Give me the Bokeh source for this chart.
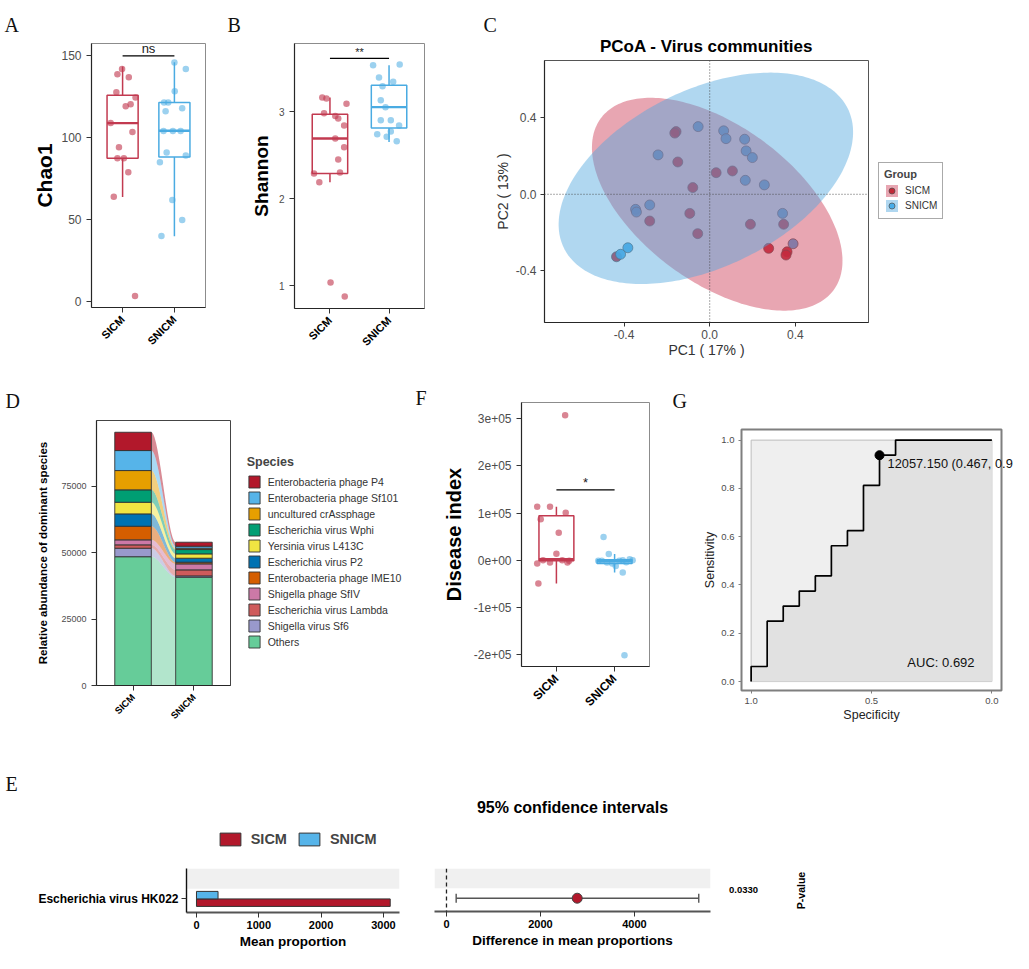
import math
import numpy as np
from bokeh.plotting import figure
from bokeh.models import (Range1d, Label, Legend, LegendItem, Span, FixedTicker,
                          ColumnDataSource, Whisker, TeeHead, PrintfTickFormatter, BoxAnnotation)
from bokeh.embed import file_html
from bokeh.resources import INLINE
from bokeh.core.properties import value

FONT = "Liberation Sans"
SERIF = "Liberation Serif"
RED = "#C23A50"
BLUE = "#4AABE2"
NAN = float("nan")

groups = ["SICM", "SNICM"]

# ---------------- A: Chao1 ----------------
chao1_sicm_jit = [-0.01, -0.10, 0.12, -0.12, 0.25, 0.155, 0.06, 0.19, -0.07, -0.10, 0.025, 0.11, -0.17, 0.24, -0.23]
chao1_sicm = [142, 138.7, 137, 127.8, 124.6, 120.5, 119.3, 103.6, 94.2, 87.5, 87.5, 79.1, 64.1, 3.6, 109]
chao1_snicm_jit = [0.0, 0.22, 0.006, -0.2, -0.12, -0.17, 0.15, -0.21, -0.03, 0.12, -0.15, 0.22, -0.28, -0.04, 0.15, -0.25]
chao1_snicm = [145.9, 142, 128.4, 121.5, 121.5, 116.2, 118.1, 104.1, 104.1, 104.1, 91.1, 89.3, 85.2, 62.1, 49.9, 40.2]
chao1_lower = [64, 40]
chao1_q1 = [87.5, 88.4]
chao1_median = [109, 104.3]
chao1_q3 = [126, 121.5]
chao1_upper = [143.5, 146]
chao1_sig = [150]
chao1_sig_text = ["ns"]

# ---------------- B: Shannon ----------------
shannon_sicm_jit = [-0.13, -0.06, 0.28, -0.10, 0.09, 0.14, 0.24, 0.09, 0.24, 0.14, 0.17, -0.27, -0.18, 0.01, 0.25]
shannon_sicm = [3.16, 3.15, 3.09, 2.98, 2.95, 2.92, 2.84, 2.69, 2.59, 2.45, 2.30, 2.29, 2.19, 1.04, 0.88]
shannon_snicm_jit = [-0.27, 0.18, -0.17, 0.07, -0.11, -0.14, -0.06, -0.14, 0.03, 0.17, -0.20, 0.03, -0.04, 0.13]
shannon_snicm = [3.53, 3.54, 3.39, 3.34, 3.29, 3.13, 3.05, 2.90, 2.90, 2.84, 2.74, 2.77, 2.71, 2.66]
shannon_lower = [2.19, 2.65]
shannon_q1 = [2.29, 2.81]
shannon_median = [2.69, 3.05]
shannon_q3 = [2.97, 3.30]
shannon_upper = [3.16, 3.53]
shannon_sig = [3.61]
shannon_sig_text = ["**"]

# ---------------- C: PCoA ----------------
pc_sicm_x = [-0.157, -0.163, -0.149, 0.030, 0.106, -0.079, -0.093, -0.280, -0.056, 0.190, -0.435, 0.275, 0.345, 0.361, 0.356]
pc_sicm_y = [0.328, 0.320, 0.169, 0.113, 0.122, 0.035, -0.100, -0.140, -0.206, -0.157, -0.327, -0.283, -0.157, -0.301, -0.318]
pc_snicm_x = [-0.054, 0.065, 0.076, 0.163, 0.170, 0.199, -0.241, 0.166, 0.255, -0.280, -0.346, -0.342, -0.382, -0.416, 0.340, 0.389]
pc_snicm_y = [0.354, 0.332, 0.291, 0.288, 0.227, 0.192, 0.206, 0.073, 0.049, -0.056, -0.079, -0.093, -0.280, -0.314, -0.100, -0.259]
# 95% ellipses (centre x, centre y, semi-major, semi-minor, angle in degrees)
ell_sicm = [0.035, -0.052, 0.707, 0.390, -42.4]
ell_snicm = [-0.018, 0.0835, 0.758, 0.451, 31.7]
pc1_pct = 17
pc2_pct = 13

# ---------------- D: dominant species ----------------
species = ["Others", "Shigella virus Sf6", "Escherichia virus Lambda", "Shigella phage SfIV",
           "Enterobacteria phage IME10", "Escherichia virus P2", "Yersinia virus L413C",
           "Escherichia virus Wphi", "uncultured crAssphage", "Enterobacteria phage Sf101",
           "Enterobacteria phage P4"]
abund_sicm = [48500, 3200, 1270, 1880, 5130, 4650, 4380, 4670, 7270, 7530, 6890]
abund_snicm = [40780, 500, 2270, 2260, 620, 1500, 1640, 1630, 500, 760, 1500]
species_colors = ["#66CC99", "#9999CC", "#CF5B5B", "#CC79A7", "#D55E00", "#0072B2",
                  "#F0E442", "#009E73", "#E69F00", "#56B4E9", "#B2182B"]

# ---------------- F: Disease index ----------------
di_sicm_jit = [0.15, -0.33, -0.11, 0.16, -0.27, 0.04, 0.0, -0.33, -0.11, 0.19, -0.31, -0.23, 0.10, 0.22]
di_sicm = [307000, 113000, 113000, 100600, 87000, 58000, 14000, -7000, -5000, -5000, -49000, 0, 0, -1000]
di_snicm_jit = [-0.19, -0.10, 0.14, 0.02, 0.17, -0.22, -0.13, -0.04, 0.08, 0.20, 0.26, 0.31, -0.28, 0.14]
di_snicm = [49000, 13000, -26000, -12000, -201000, -1000, -5000, -7000, -1000, -4000, 2000, 0, -1000, 0]
di_lower = [-49000, -26000]
di_q1 = [-1000, -7000]
di_median = [2000, -2000]
di_q3 = [94000, 1000]
di_upper = [113000, 13000]
di_sig = [149000]
di_sig_text = ["*"]
di_ticks = [-200000, -100000, 0, 100000, 200000, 300000]
di_tick_labels = ["-2e+05", "-1e+05", "0e+00", "1e+05", "2e+05", "3e+05"]

# ---------------- G: ROC ----------------
roc_spec = [1, 1, 14/15, 14/15, 13/15, 13/15, 12/15, 12/15, 11/15, 11/15, 10/15, 10/15,
            9/15, 9/15, 8/15, 8/15, 7/15, 7/15, 6/15, 6/15, 0]
roc_sens = [0, 1/16, 1/16, 4/16, 4/16, 5/16, 5/16, 6/16, 6/16, 7/16, 7/16, 9/16,
            9/16, 10/16, 10/16, 13/16, 13/16, 15/16, 15/16, 1, 1]
best_threshold = 12057.150
best_spec = 7/15
best_sens = 15/16

# ---------------- E: extended error bar ----------------
feature = ["Escherichia virus HK022"]
mean_prop_sicm = [3109]
mean_prop_snicm = [346]
diff_mean = [2781]
diff_lo = [206]
diff_hi = [5367]
p_value = ["0.0330"]

E_RED = "#B2182B"
E_BLUE = "#56B4E9"


# ================= helpers =================
def base(left, top, w, h, l, r, t, b, xr, yr):
    p = figure(width=w, height=h, x_range=xr, y_range=yr, toolbar_location=None,
               output_backend="svg", min_border_left=l, min_border_right=r,
               min_border_top=t, min_border_bottom=b,
               styles={"position": "absolute", "left": f"{left}px", "top": f"{top}px"})
    p.xgrid.visible = False
    p.ygrid.visible = False
    p.outline_line_color = "#8C8C8C"
    p.outline_line_width = 1
    p.background_fill_color = "white"
    p.border_fill_color = "white"
    for ax in p.axis:
        ax.minor_tick_line_color = None
        ax.major_tick_in = 0
        ax.major_tick_out = 5
        ax.major_tick_line_color = "#333333"
        ax.axis_line_color = "#262626"
        ax.axis_line_width = 1.2
        ax.major_label_text_font = FONT
        ax.axis_label_text_font = FONT
        ax.axis_label_text_font_style = "normal"
        ax.major_label_text_color = "#4D4D4D"
        ax.axis_label_text_color = "black"
        ax.major_label_standoff = 5
    return p


def overlay(left, top, w, h):
    # transparent figure that only carries a legend placed outside a panel frame
    p = figure(width=w, height=h, x_range=Range1d(0, 1), y_range=Range1d(0, 1),
               toolbar_location=None, output_backend="svg", x_axis_type=None, y_axis_type=None,
               min_border=0, styles={"position": "absolute", "left": f"{left}px", "top": f"{top}px"})
    p.outline_line_color = None
    p.background_fill_alpha = 0
    p.border_fill_alpha = 0
    return p


def cat_xaxis(p, size):
    ax = p.xaxis[0]
    ax.ticker = FixedTicker(ticks=[1, 2])
    ax.major_label_overrides = {1: groups[0], 2: groups[1]}
    ax.major_label_orientation = math.pi / 4
    ax.major_label_text_font_style = "bold"
    ax.major_label_text_color = "black"
    ax.major_label_text_font_size = f"{size}px"


def boxplot(p, lower, q1, med, q3, upper, width=0.6, lw=1.5):
    xs = [1, 2]
    src = ColumnDataSource(dict(x=xs, lower=lower, q1=q1, med=med, q3=q3, upper=upper,
                                color=[RED, BLUE],
                                left=[x - width / 2 for x in xs], right=[x + width / 2 for x in xs]))
    p.segment(x0="x", y0="lower", x1="x", y1="q1", line_color="color", line_width=lw, source=src)
    p.segment(x0="x", y0="q3", x1="x", y1="upper", line_color="color", line_width=lw, source=src)
    p.quad(left="left", right="right", bottom="q1", top="q3", fill_color=None,
           line_color="color", line_width=lw, source=src)
    p.segment(x0="left", y0="med", x1="right", y1="med", line_color="color", line_width=lw * 1.6, source=src)


def jitter_points(p, jit_a, vals_a, jit_b, vals_b, size=6.5):
    p.scatter(x=[1 + j for j in jit_a], y=vals_a, size=size, fill_color=RED, fill_alpha=0.62, line_color=None)
    p.scatter(x=[2 + j for j in jit_b], y=vals_b, size=size, fill_color=BLUE, fill_alpha=0.55, line_color=None)


def sig_bar(p, yv, txt, size):
    p.segment(x0=[1], y0=yv, x1=[2], y1=yv, line_color="black", line_width=1.3)
    p.text(x=[1.5], y=yv, text=txt, text_align="center", text_baseline="bottom",
           text_font=value(FONT), text_font_size=f"{size}px", text_color="#1a1a1a")


def put(p, cl, ct, ax_, ay_, text, size, bold=False, font=FONT, align="left",
        baseline="middle", angle=0, color="black"):
    p.add_layout(Label(x=ax_ - cl, y=ay_ - ct, x_units="canvas", y_units="canvas", text=text,
                       text_font=font, text_font_size=f"{size}px",
                       text_font_style="bold" if bold else "normal",
                       text_align=align, text_baseline=baseline, angle=angle, text_color=color), "above")


def letter(p, cl, ct, ax_, ay_, text):
    put(p, cl, ct, ax_, ay_, text, 20, font=SERIF, baseline="middle", color="#111111")


# ================= A =================
pA = base(0, 0, 225, 375, 91, 20, 43, 68, Range1d(0.4, 2.6), Range1d(-3.4, 157.5))
boxplot(pA, chao1_lower, chao1_q1, chao1_median, chao1_q3, chao1_upper)
jitter_points(pA, chao1_sicm_jit, chao1_sicm, chao1_snicm_jit, chao1_snicm)
sig_bar(pA, chao1_sig, chao1_sig_text, 13)
cat_xaxis(pA, 11)
pA.yaxis.ticker = FixedTicker(ticks=[0, 50, 100, 150])
pA.yaxis.major_label_text_font_size = "12px"
pA.yaxis.axis_label = "Chao1"
pA.yaxis.axis_label_text_font_size = "21px"
pA.yaxis.axis_label_text_font_style = "bold"
pA.yaxis.axis_label_standoff = 2
letter(pA, 0, 0, 4, 24.5, "A")

# ================= B =================
pB = base(225, 0, 225, 375, 69, 26, 43, 67, Range1d(0.4, 2.6), Range1d(0.741, 3.78))
boxplot(pB, shannon_lower, shannon_q1, shannon_median, shannon_q3, shannon_upper)
jitter_points(pB, shannon_sicm_jit, shannon_sicm, shannon_snicm_jit, shannon_snicm)
sig_bar(pB, shannon_sig, shannon_sig_text, 11)
cat_xaxis(pB, 11)
pB.yaxis.ticker = FixedTicker(ticks=[1, 2, 3])
pB.yaxis.major_label_text_font_size = "10px"
pB.yaxis.axis_label = "Shannon"
pB.yaxis.axis_label_text_font_size = "19px"
pB.yaxis.axis_label_text_font_style = "bold"
pB.yaxis.axis_label_standoff = 4
letter(pB, 225, 0, 227, 24.5, "B")

# ================= C =================
pC = base(450, 0, 579, 375, 94, 161, 60, 53, Range1d(-0.771, 0.741), Range1d(-0.671, 0.70))
pC.outline_line_color = "#555555"
pC.add_layout(Span(location=0, dimension="height", line_color="#444444", line_width=0.9, line_dash="1 2"))
pC.add_layout(Span(location=0, dimension="width", line_color="#444444", line_width=0.9, line_dash="1 2"))
pC.scatter(pc_sicm_x, pc_sicm_y, size=10, fill_color="#BE1E2D", fill_alpha=0.92,
           line_color="#4D4D4D", line_width=0.7)
pC.scatter(pc_snicm_x, pc_snicm_y, size=10, fill_color="#3FA9E8", fill_alpha=0.92,
           line_color="#4D4D4D", line_width=0.7)


def ellipse_xy(params):
    cx, cy, a, b, ang = params
    th = math.radians(ang)
    tt = np.linspace(0, 2 * np.pi, 240)
    x = cx + a * np.cos(tt) * math.cos(th) - b * np.sin(tt) * math.sin(th)
    y = cy + a * np.cos(tt) * math.sin(th) + b * np.sin(tt) * math.cos(th)
    return x, y


ex, ey = ellipse_xy(ell_sicm)
pC.patch(ex, ey, fill_color="#CC3A55", fill_alpha=0.45, line_color=None)
ex, ey = ellipse_xy(ell_snicm)
pC.patch(ex, ey, fill_color="#4FA6DE", fill_alpha=0.45, line_color=None)
pC.xaxis.ticker = FixedTicker(ticks=[-0.4, 0.0, 0.4])
pC.yaxis.ticker = FixedTicker(ticks=[-0.4, 0.0, 0.4])
pC.xaxis.formatter = PrintfTickFormatter(format="%.1f")
pC.yaxis.formatter = PrintfTickFormatter(format="%.1f")
for ax in pC.axis:
    ax.major_label_text_font_size = "12px"
    ax.axis_label_text_font_size = "14px"
    ax.axis_label_text_color = "#333333"
    ax.major_tick_out = 4
    ax.major_label_standoff = 4
    ax.axis_label_standoff = 2
pC.xaxis.major_label_standoff = 3
pC.xaxis.axis_label_standoff = 0
pC.xaxis.axis_label = f"PC1 ( {pc1_pct}% )"
pC.yaxis.axis_label = f"PC2 ( {pc2_pct}% )"
put(pC, 450, 0, 706, 46, "PCoA - Virus communities", 17, bold=True, align="center")
letter(pC, 450, 0, 483, 24.5, "C")

# legend of C drawn in a transparent overlay (placeholder renderers draw nothing)
lC = overlay(870, 155, 80, 72)
kc1 = lC.patch([NAN], [NAN], fill_color="#CC3A55", fill_alpha=0.45, line_color=None)
kc2 = lC.scatter([NAN], [NAN], size=10, fill_color="#BE1E2D", fill_alpha=0.92, line_color="#4D4D4D", line_width=0.7)
kc3 = lC.patch([NAN], [NAN], fill_color="#4FA6DE", fill_alpha=0.45, line_color=None)
kc4 = lC.scatter([NAN], [NAN], size=10, fill_color="#3FA9E8", fill_alpha=0.92, line_color="#4D4D4D", line_width=0.7)
legC = Legend(items=[LegendItem(label=groups[0], renderers=[kc1, kc2]),
                     LegendItem(label=groups[1], renderers=[kc3, kc4])],
              location=(8, 8), title="Group")
legC.title_text_font = FONT
legC.title_text_font_style = "bold"
legC.title_text_font_size = "11px"
legC.label_text_font = FONT
legC.label_text_font_size = "10px"
legC.label_text_color = "#333333"
legC.border_line_color = "#555555"
legC.background_fill_color = "white"
legC.padding = 5
legC.spacing = 0
legC.margin = 0
legC.glyph_height = 15
legC.glyph_width = 15
legC.label_height = 15
legC.title_standoff = 3
legC.label_standoff = 6
lC.add_layout(legC)

# ================= D =================
pD = base(0, 375, 405, 360, 96, 175, 45, 50, Range1d(0.4, 2.6), Range1d(0, 99800))
pD.outline_line_color = "#444444"
bw = 0.6
top_a = np.cumsum(abund_sicm)
bot_a = top_a - np.array(abund_sicm)
top_b = np.cumsum(abund_snicm)
bot_b = top_b - np.array(abund_snicm)
tt = np.linspace(0, 1, 60)
s = tt * tt * (3 - 2 * tt)
fx = (1 + bw / 2) + tt * ((2 - bw / 2) - (1 + bw / 2))
for i in range(len(species)):
    ytop = top_a[i] + (top_b[i] - top_a[i]) * s
    ybot = bot_a[i] + (bot_b[i] - bot_a[i]) * s
    pD.patch(np.concatenate([fx, fx[::-1]]), np.concatenate([ytop, ybot[::-1]]),
             fill_color=species_colors[i], fill_alpha=0.5, line_color=None)
for i, sp in enumerate(species):
    pD.vbar(x=[1, 2], bottom=[bot_a[i], bot_b[i]], top=[top_a[i], top_b[i]], width=bw,
            fill_color=species_colors[i], line_color="#333333", line_width=0.9)
cat_xaxis(pD, 9.5)
pD.yaxis.ticker = FixedTicker(ticks=[0, 25000, 50000, 75000])
pD.yaxis.major_label_text_font_size = "9px"
pD.yaxis.axis_label = "Relative abundance of dominant species"
pD.yaxis.axis_label_text_font_size = "11.5px"
pD.yaxis.axis_label_text_font_style = "bold"
pD.yaxis.axis_label_standoff = 9
letter(pD, 0, 375, 5, 400, "D")

lD = overlay(240, 448, 175, 215)
keysD = [lD.vbar(x=[NAN], top=[NAN], width=0.5, fill_color=c, line_color="#333333", line_width=0.9)
         for c in species_colors]
legD = Legend(items=[LegendItem(label=species[i], renderers=[keysD[i]]) for i in range(len(species) - 1, -1, -1)],
              location=(6.7, 14), title="Species")
legD.title_text_font = FONT
legD.title_text_font_style = "bold"
legD.title_text_font_size = "12.5px"
legD.label_text_font = FONT
legD.label_text_font_size = "10.5px"
legD.label_text_color = "#333333"
legD.border_line_color = None
legD.background_fill_alpha = 0
legD.padding = 0
legD.spacing = 1
legD.margin = 0
legD.glyph_height = 15
legD.glyph_width = 14
legD.label_height = 15
legD.title_standoff = 5
legD.label_standoff = 7
lD.add_layout(legD)

# ================= F =================
pF = base(405, 375, 260, 360, 116, 16, 27, 69, Range1d(0.4, 2.6), Range1d(-225000, 334000))
boxplot(pF, di_lower, di_q1, di_median, di_q3, di_upper)
jitter_points(pF, di_sicm_jit, di_sicm, di_snicm_jit, di_snicm)
sig_bar(pF, di_sig, di_sig_text, 13)
cat_xaxis(pF, 12)
pF.yaxis.ticker = FixedTicker(ticks=di_ticks)
pF.yaxis.major_label_overrides = {k: v for k, v in zip(di_ticks, di_tick_labels)}
pF.yaxis.major_label_text_font_size = "12px"
pF.yaxis.axis_label = "Disease index"
pF.yaxis.axis_label_text_font_size = "20px"
pF.yaxis.axis_label_text_font_style = "bold"
pF.yaxis.axis_label_standoff = 6
letter(pF, 405, 375, 415, 397, "F")

# ================= G =================
pG = base(665, 375, 355, 360, 76, 19, 54, 45, Range1d(1.04, -0.04), Range1d(-0.037, 1.044))
pG.outline_line_color = "#7F7F7F"
pG.outline_line_width = 2
pG.quad(left=[1], right=[0], bottom=[0], top=[1], fill_color="#EFEFEF", line_color="#BDBDBD", line_width=1)
pG.patch(roc_spec + [0.0], roc_sens + [0.0], fill_color="#E1E1E1", line_color=None)
pG.line(roc_spec, roc_sens, line_color="black", line_width=1.7)
pG.scatter([best_spec], [best_sens], size=9, fill_color="black", line_color="black")
auc = sum((roc_spec[i] - roc_spec[i + 1]) * roc_sens[i] for i in range(len(roc_spec) - 1))
# the reference shows this threshold label cut at the panel's right edge
pG.add_layout(Label(x=best_spec, y=best_sens, x_offset=8, y_offset=-8,
                    text=f"{best_threshold:.3f} ({best_spec:.3f}, {best_sens:.1f}",
                    text_font=FONT, text_font_size="12.8px", text_baseline="middle",
                    text_color="#111111"), "above")
pG.add_layout(Label(x=0.351, y=0.08, text=f"AUC: {auc:.3f}", text_font=FONT, text_font_size="13px",
                    text_baseline="middle", text_color="#111111"))
pG.xaxis.ticker = FixedTicker(ticks=[0.0, 0.5, 1.0])
pG.yaxis.ticker = FixedTicker(ticks=[0.0, 0.2, 0.4, 0.6, 0.8, 1.0])
pG.xaxis.formatter = PrintfTickFormatter(format="%.1f")
pG.yaxis.formatter = PrintfTickFormatter(format="%.1f")
for ax in pG.axis:
    ax.axis_line_color = None
    ax.major_tick_out = 3
    ax.major_tick_line_color = "#7F7F7F"
    ax.major_label_text_font_size = "9.5px"
    ax.major_label_standoff = 4
    ax.axis_label_text_font_size = "12.5px"
    ax.axis_label_text_color = "#222222"
    ax.axis_label_standoff = 1
pG.xaxis.axis_label = "Specificity"
pG.yaxis.axis_label = "Sensitivity"
letter(pG, 665, 375, 672, 400.5, "G")

# ================= E (left) =================
pE1 = base(0, 735, 420, 234, 186, 21, 133, 57, Range1d(-160, 3258), Range1d(0.276, 2.62))
pE1.outline_line_color = None
pE1.add_layout(BoxAnnotation(bottom=1.54, fill_color="#F0F0F0", fill_alpha=1, line_color=None, level="underlay"))
pE1.hbar(y=[0.8], left=[0], right=mean_prop_sicm, height=0.4, fill_color=E_RED,
         line_color="#333333", line_width=1)
pE1.hbar(y=[1.2], left=[0], right=mean_prop_snicm, height=0.4, fill_color=E_BLUE,
         line_color="#333333", line_width=1)
pE1.xaxis.ticker = FixedTicker(ticks=[0, 1000, 2000, 3000])
pE1.yaxis.ticker = FixedTicker(ticks=[1])
pE1.yaxis.major_label_overrides = {1: feature[0]}
for ax in pE1.axis:
    ax.major_label_text_font_style = "bold"
    ax.major_label_text_color = "black"
    ax.major_label_standoff = 3
pE1.xaxis.major_label_text_font_size = "11px"
pE1.yaxis.major_label_text_font_size = "12px"
pE1.xaxis.axis_line_color = "#555555"
pE1.xaxis.axis_line_width = 2.2
pE1.yaxis.axis_line_color = "#111111"
pE1.yaxis.axis_line_width = 1.4
pE1.xaxis.axis_label = "Mean proportion"
pE1.xaxis.axis_label_text_font_style = "bold"
pE1.xaxis.axis_label_text_font_size = "13.5px"
pE1.xaxis.axis_label_standoff = 2
letter(pE1, 0, 735, 5, 783.5, "E")

lE = overlay(210, 825, 180, 30)
ke1 = lE.hbar(y=[NAN], right=[NAN], height=0.5, fill_color=E_RED, line_color="#333333", line_width=1)
ke2 = lE.hbar(y=[NAN], right=[NAN], height=0.5, fill_color=E_BLUE, line_color="#333333", line_width=1)
legE = Legend(items=[LegendItem(label=groups[0], renderers=[ke1]),
                     LegendItem(label=groups[1], renderers=[ke2])],
              location=(6.7, 7.7), orientation="horizontal")
legE.label_text_font = FONT
legE.label_text_font_style = "bold"
legE.label_text_font_size = "14.5px"
legE.border_line_color = None
legE.background_fill_alpha = 0
legE.padding = 0
legE.margin = 0
legE.spacing = 9
legE.glyph_width = 26
legE.glyph_height = 16
legE.label_height = 16
legE.label_standoff = 8
lE.add_layout(legE)

# ================= E (right) =================
pE2 = base(420, 735, 609, 234, 14, 319, 133, 58, Range1d(-255, 5617), Range1d(0.276, 2.62))
pE2.outline_line_color = None
pE2.yaxis.visible = False
pE2.add_layout(BoxAnnotation(bottom=1.54, fill_color="#F0F0F0", fill_alpha=1, line_color=None, level="underlay"))
pE2.add_layout(Span(location=0, dimension="height", line_color="#222222", line_width=1.3, line_dash="4 3"))
srcE = ColumnDataSource(dict(y=[1], lo=diff_lo, hi=diff_hi, m=diff_mean))
pE2.add_layout(Whisker(source=srcE, base="y", lower="lo", upper="hi", dimension="width",
                       line_color="#555555", line_width=1.6,
                       upper_head=TeeHead(size=9, line_color="#555555", line_width=1.4),
                       lower_head=TeeHead(size=9, line_color="#555555", line_width=1.4)))
pE2.scatter(x="m", y="y", source=srcE, size=10, fill_color=E_RED, line_color="#444444", line_width=1)
pE2.xaxis.ticker = FixedTicker(ticks=[0, 2000, 4000])
pE2.xaxis.major_label_text_font_style = "bold"
pE2.xaxis.major_label_text_color = "black"
pE2.xaxis.major_label_text_font_size = "11px"
pE2.xaxis.major_label_standoff = 3
pE2.xaxis.axis_line_color = "#555555"
pE2.xaxis.axis_line_width = 2.2
pE2.xaxis.axis_label = "Difference in mean proportions"
pE2.xaxis.axis_label_text_font_style = "bold"
pE2.xaxis.axis_label_text_font_size = "13.5px"
pE2.xaxis.axis_label_standoff = 2
put(pE2, 420, 735, 572, 807, "95% confidence intervals", 16, bold=True, align="center")
put(pE2, 420, 735, 743, 889, p_value[0], 9.5, bold=True, align="center")
put(pE2, 420, 735, 800, 890, "P-value", 10.5, bold=True, align="center", angle=math.pi / 2)

roots = [pA, pB, pC, pD, pF, pG, pE1, pE2, lC, lD, lE]
open("out.html", "w").write(file_html(roots, INLINE))
